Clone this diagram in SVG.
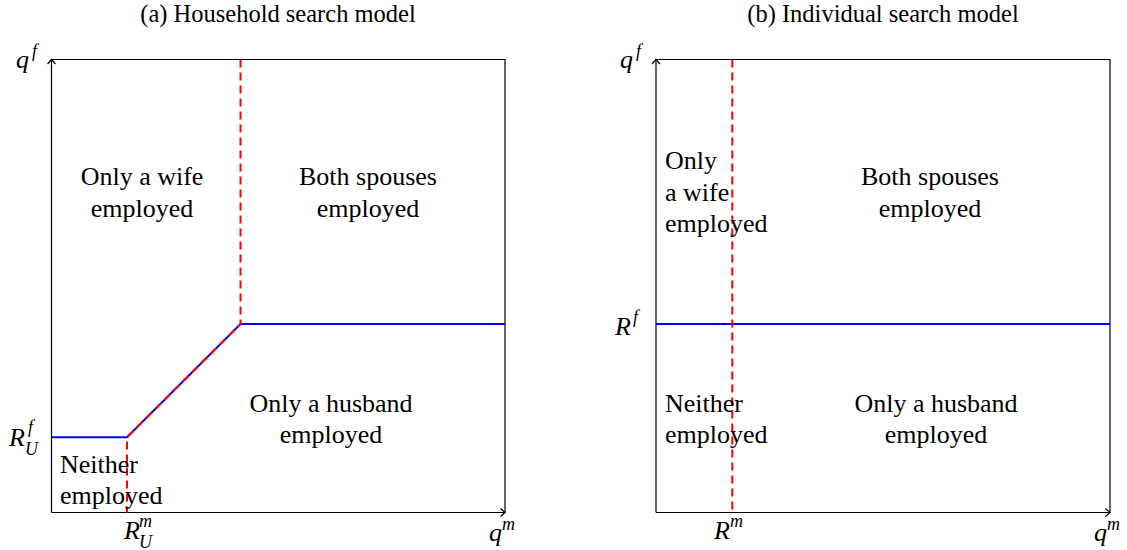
<svg xmlns="http://www.w3.org/2000/svg" width="1127" height="550" viewBox="0 0 1127 550">
<style>
text{font-family:'Liberation Serif',Times,'Times New Roman',serif;fill:#000}
.lab{font-size:26px}
.ttl{font-size:24.5px}
.m{font-style:italic;font-size:26px}
.sup{font-style:italic;font-size:18px}
.ax{fill:none;stroke:#000;stroke-width:1.2}
.blue{fill:none;stroke:#0000ff;stroke-width:2}
.red{fill:none;stroke:#ff0000;stroke-width:2;stroke-dasharray:8,5}
</style>
<rect width="1127" height="550" fill="#fff"/>
<text class="ttl" x="278" y="22" text-anchor="middle">(a) Household search model</text>
<text class="ttl" x="883" y="22" text-anchor="middle">(b) Individual search model</text>
<g id="axes-a">
<path class="ax" d="M51.5,512.5 V59.5 H505 V512.5 H51.5"/>
<path class="ax" d="M47.5,64 L51.5,59.5 L55.5,64"/>
<path class="ax" d="M500.5,508.5 L505,512.5 L500.5,516.5"/>
</g>
<g id="axes-b">
<path class="ax" d="M656,512.5 V59.5 H1110 V512.5 H656"/>
<path class="ax" d="M652,64 L656,59.5 L660,64"/>
<path class="ax" d="M1105.5,508.5 L1110,512.5 L1105.5,516.5"/>
</g>
<g id="connectors">
<path class="blue" d="M51.5,437.3 H127 L240.5,324 H505"/>
<path class="red" d="M240.5,59.5 V324 L127,437.3 V512.5"/>
<path class="blue" d="M656,324 H1110"/>
<path class="red" d="M732.3,59.5 V512.5"/>
</g>
<g id="regions-a">
<text class="lab" x="142" y="185" text-anchor="middle">Only a wife</text>
<text class="lab" x="142" y="217" text-anchor="middle">employed</text>
<text class="lab" x="368" y="185" text-anchor="middle">Both spouses</text>
<text class="lab" x="368" y="217" text-anchor="middle">employed</text>
<text class="lab" x="331" y="412" text-anchor="middle">Only a husband</text>
<text class="lab" x="331" y="443" text-anchor="middle">employed</text>
<text class="lab" x="60" y="473">Neither</text>
<text class="lab" x="60" y="504">employed</text>
</g>
<g id="regions-b">
<text class="lab" x="665" y="169">Only</text>
<text class="lab" x="665" y="201">a wife</text>
<text class="lab" x="665" y="232">employed</text>
<text class="lab" x="930" y="185" text-anchor="middle">Both spouses</text>
<text class="lab" x="930" y="217" text-anchor="middle">employed</text>
<text class="lab" x="936" y="412" text-anchor="middle">Only a husband</text>
<text class="lab" x="936" y="443" text-anchor="middle">employed</text>
<text class="lab" x="665" y="412">Neither</text>
<text class="lab" x="665" y="443">employed</text>
</g>
<g id="labels-a">
<text class="m" x="16" y="68">q</text><text class="sup" x="32" y="57">f</text>
<text class="m" x="9" y="446">R</text><text class="sup" x="28" y="433">f</text><text class="sup" x="25" y="455">U</text>
<text class="m" x="124" y="539">R</text><text class="sup" x="139" y="527">m</text><text class="sup" x="139" y="548">U</text>
<text class="m" x="489" y="541">q</text><text class="sup" x="502" y="530">m</text>
</g>
<g id="labels-b">
<text class="m" x="620" y="68">q</text><text class="sup" x="636" y="57">f</text>
<text class="m" x="615" y="335">R</text><text class="sup" x="633" y="323">f</text>
<text class="m" x="714" y="539">R</text><text class="sup" x="730" y="527">m</text>
<text class="m" x="1094" y="541">q</text><text class="sup" x="1107" y="530">m</text>
</g>
</svg>
